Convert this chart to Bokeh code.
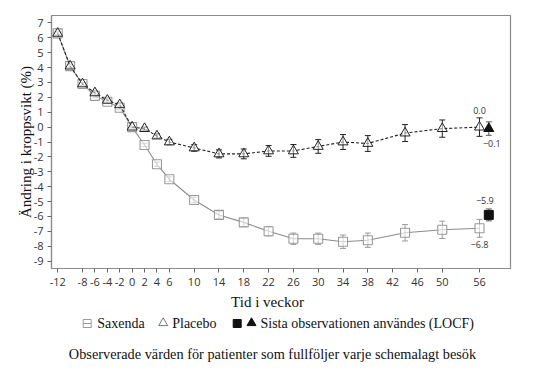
from bokeh.plotting import figure
from bokeh.layouts import column
from bokeh.models import Range1d, FixedTicker, ColumnDataSource, Whisker, TeeHead
from bokeh.core.properties import value
from bokeh.embed import file_html
from bokeh.resources import INLINE

# ---- data ----
weeks = [-12, -10, -8, -6, -4, -2, 0, 2, 4, 6, 10, 14, 18, 22, 26, 30, 34, 38, 44, 50, 56]
saxenda = [6.3, 4.1, 2.9, 2.1, 1.7, 1.3, 0.0, -1.2, -2.5, -3.5, -4.9, -5.9, -6.4, -7.0,
           -7.5, -7.5, -7.7, -7.6, -7.1, -6.9, -6.8]
saxenda_se = [0.1, 0.1, 0.1, 0.12, 0.12, 0.12, 0.05, 0.12, 0.15, 0.16, 0.2, 0.25, 0.28, 0.31,
              0.38, 0.38, 0.45, 0.48, 0.55, 0.58, 0.6]
placebo = [6.3, 4.1, 2.9, 2.3, 1.8, 1.5, 0.0, -0.1, -0.6, -1.0, -1.4, -1.8, -1.8, -1.6,
           -1.6, -1.3, -1.0, -1.1, -0.4, -0.1, 0.0]
placebo_se = [0.1, 0.1, 0.1, 0.12, 0.12, 0.12, 0.05, 0.1, 0.15, 0.18, 0.22, 0.27, 0.33, 0.36,
              0.43, 0.46, 0.5, 0.53, 0.57, 0.58, 0.62]
locf_week = [57.5]
locf_saxenda = [-5.9]
locf_saxenda_se = [0.4]
locf_placebo = [-0.1]
locf_placebo_se = [0.45]

x_ticks = [-12, -8, -6, -4, -2, 0, 2, 4, 6, 10, 14, 18, 22, 26, 30, 34, 38, 42, 46, 50, 56]
y_ticks = list(range(-9, 8))

end_labels_text = ["0.0", "\u22120.1", "\u22125.9", "\u22126.8"]
end_labels_x = [weeks[-1], locf_week[0], locf_week[0], weeks[-1]]
end_labels_y = [placebo[-1], locf_placebo[0], locf_saxenda[0], saxenda[-1]]
end_labels_dx = [0, 3, -4, 0]
end_labels_dy = [-17, 15, -14, 16]

legend_labels = ["Saxenda", "Placebo", "Sista observationen användes (LOCF)"]
caption = "Observerade värden för patienter som fullföljer varje schemalagt besök"
x_title = "Tid i veckor"
y_title = "Ändring i kroppsvikt (%)"

SERIF = "Liberation Serif"
SANS = "Open Sans"
SAX_C = "#9a9a9a"
PLA_C = "#222222"

p = figure(width=525, height=290, output_backend="svg", toolbar_location=None,
           x_range=Range1d(-13.0, 61.0), y_range=Range1d(-9.5, 7.5),
           min_border_left=51, min_border_right=15, min_border_top=15, min_border_bottom=22)
p.grid.visible = False
p.outline_line_color = "#8a8a8a"
p.outline_line_width = 1.2
p.background_fill_color = "white"

for ax in (p.xaxis[0], p.yaxis[0]):
    ax.axis_line_color = "#8a8a8a"
    ax.axis_line_width = 1.2
    ax.major_tick_line_color = "#666666"
    ax.major_tick_out = 4
    ax.major_tick_in = 0
    ax.minor_tick_line_color = None
    ax.major_label_text_font = SANS
    ax.major_label_text_font_size = "11px"
    ax.major_label_text_color = "#333333"
    ax.axis_label_text_font = SERIF
    ax.axis_label_text_font_style = "normal"
    ax.axis_label_text_font_size = "15px"
    ax.axis_label_text_color = "#111111"

p.xaxis.ticker = FixedTicker(ticks=x_ticks)
p.yaxis.ticker = FixedTicker(ticks=y_ticks)
p.xaxis.major_label_overrides = {t: str(t) for t in x_ticks}
p.yaxis.major_label_overrides = {t: str(t) for t in y_ticks}
p.xaxis.major_label_standoff = 5
p.yaxis.major_label_standoff = 4
p.yaxis.axis_label = y_title
p.yaxis.axis_label_standoff = -3

# Saxenda
src_s = ColumnDataSource(dict(x=weeks, y=saxenda,
                              lo=[v - e for v, e in zip(saxenda, saxenda_se)],
                              hi=[v + e for v, e in zip(saxenda, saxenda_se)]))
p.line("x", "y", source=src_s, line_color="#8c8c8c", line_width=1.1)
p.add_layout(Whisker(base="x", lower="lo", upper="hi", source=src_s,
                     line_color=SAX_C, line_width=1,
                     upper_head=TeeHead(size=6, line_color=SAX_C, line_width=1),
                     lower_head=TeeHead(size=6, line_color=SAX_C, line_width=1)))
p.scatter("x", "y", source=src_s, marker="square", size=9, fill_color="white",
          fill_alpha=0.6, line_color=SAX_C, line_width=1.1)

# Placebo
src_p = ColumnDataSource(dict(x=weeks, y=placebo,
                              lo=[v - e for v, e in zip(placebo, placebo_se)],
                              hi=[v + e for v, e in zip(placebo, placebo_se)]))
p.line("x", "y", source=src_p, line_color=PLA_C, line_width=1.1, line_dash="3 2")
p.add_layout(Whisker(base="x", lower="lo", upper="hi", source=src_p,
                     line_color=PLA_C, line_width=1,
                     upper_head=TeeHead(size=6, line_color=PLA_C, line_width=1),
                     lower_head=TeeHead(size=6, line_color=PLA_C, line_width=1)))
p.scatter("x", "y", source=src_p, marker="triangle", size=10, fill_color="white",
          fill_alpha=0.5, line_color=PLA_C, line_width=1)

# LOCF
src_ls = ColumnDataSource(dict(x=locf_week, y=locf_saxenda,
                               lo=[v - e for v, e in zip(locf_saxenda, locf_saxenda_se)],
                               hi=[v + e for v, e in zip(locf_saxenda, locf_saxenda_se)]))
p.add_layout(Whisker(base="x", lower="lo", upper="hi", source=src_ls,
                     line_color="#555555", line_width=1,
                     upper_head=TeeHead(size=6, line_color="#555555", line_width=1),
                     lower_head=TeeHead(size=6, line_color="#555555", line_width=1)))
p.scatter("x", "y", source=src_ls, marker="square", size=9, fill_color="#111111",
          line_color="#111111")
src_lp = ColumnDataSource(dict(x=locf_week, y=locf_placebo,
                               lo=[v - e for v, e in zip(locf_placebo, locf_placebo_se)],
                               hi=[v + e for v, e in zip(locf_placebo, locf_placebo_se)]))
p.add_layout(Whisker(base="x", lower="lo", upper="hi", source=src_lp,
                     line_color="#555555", line_width=1,
                     upper_head=TeeHead(size=6, line_color="#555555", line_width=1),
                     lower_head=TeeHead(size=6, line_color="#555555", line_width=1)))
p.scatter("x", "y", source=src_lp, marker="triangle", size=10, fill_color="#111111",
          line_color="#111111")

# end labels
src_lab = ColumnDataSource(dict(x=end_labels_x, y=end_labels_y, t=end_labels_text,
                                dx=end_labels_dx, dy=end_labels_dy))
p.text("x", "y", text="t", source=src_lab, x_offset="dx", y_offset="dy",
       text_font=value(SANS), text_font_size="9px", text_color="#333333",
       text_align="center", text_baseline="middle")

# ---- x title + legend + caption figure (frame aligned with the chart's frame) ----
q = figure(width=525, height=78, output_backend="svg", toolbar_location=None,
           x_range=Range1d(51, 510), y_range=Range1d(0, 78),
           x_axis_location=None, y_axis_location=None,
           min_border=0, min_border_left=51, min_border_right=15,
           min_border_top=0, min_border_bottom=0)
q.grid.visible = False
q.outline_line_color = None

q.text([267], [67], text=[x_title], text_font=value(SERIF), text_font_size="15px",
       text_color="#111111", text_align="center", text_baseline="middle")

leg_y = 45
q.scatter([86.7], [leg_y], marker="square", size=8, fill_color=None, line_color=SAX_C, line_width=1)
q.scatter([86.7], [leg_y], marker="dash", size=8, line_color=SAX_C, line_width=1)
q.scatter([162.7], [leg_y + 0.5], marker="triangle", size=9, fill_color=None, line_color="#777777", line_width=1)
q.scatter([236.7], [leg_y], marker="square", size=8, fill_color="#111111", line_color="#111111")
q.scatter([251], [leg_y + 0.5], marker="triangle", size=9, fill_color="#111111", line_color="#111111")
q.text([96.7, 171.7, 260], [leg_y] * 3, text=legend_labels,
       text_font=value(SERIF), text_font_size="14px", text_color="#111111",
       text_align="left", text_baseline="middle")
q.text([272], [15], text=[caption],
       text_font=value(SERIF), text_font_size="14.3px", text_color="#111111",
       text_align="center", text_baseline="middle")

layout = column(p, q, spacing=0)
open("out.html", "w").write(file_html(layout, INLINE))
